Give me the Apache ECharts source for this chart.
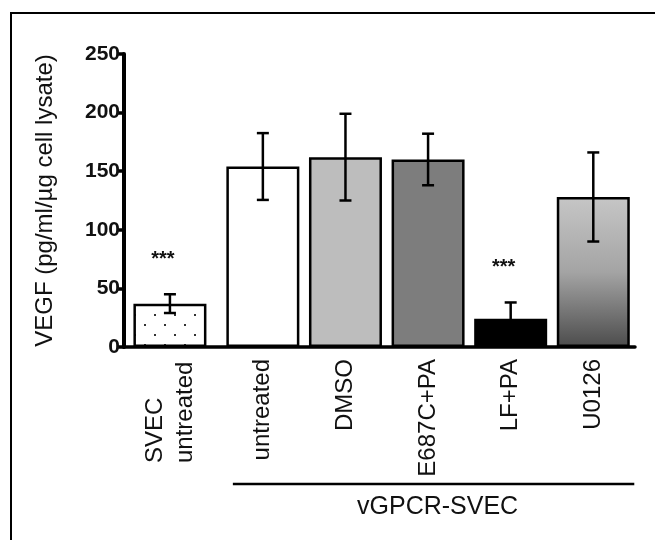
<!DOCTYPE html>
<html>
<head>
<meta charset="utf-8">
<script src="https://cdn.jsdelivr.net/npm/echarts@6/dist/echarts.min.js"></script>
<style>
html,body{margin:0;padding:0;background:#fff;}
#chart{width:655px;height:540px;}
</style>
</head>
<body>
<div id="chart"></div>
<script>
// ---- data ----
const categories = ['SVEC\nuntreated', 'untreated', 'DMSO', 'E687C+PA', 'LF+PA', 'U0126'];
const means = [37, 154, 162, 160, 24, 128];
const errors = [8, 28.5, 37, 22, 14, 38];
const significance = ['***', '', '', '', '***', ''];
const yMin = 0, yMax = 250, yInterval = 50;
const yAxisTitle = 'VEGF (pg/ml/\u00b5g cell lysate)';
const groupLabel = 'vGPCR-SVEC';
const groupStart = 1;      // first category of the vGPCR-SVEC group
const groupGap = 0.125;    // extra spacing (in bar slots) before the vGPCR-SVEC group

// slot positions: index plus a gap before the second group
const positions = categories.map((c, i) => i + (i >= groupStart ? groupGap : 0));

// ---- styles ----
const FONT = '"Liberation Sans", Arial, Helvetica, sans-serif';
function dotPattern() {
  const c = document.createElement('canvas');
  c.width = 20; c.height = 20;
  const g = c.getContext('2d');
  g.fillStyle = '#ffffff'; g.fillRect(0, 0, 20, 20);
  g.fillStyle = '#333333';
  g.fillRect(4, 4, 2, 2);
  g.fillRect(14, 14, 2, 2);
  return c;
}
const fills = [
  { image: dotPattern(), repeat: 'repeat' },
  '#ffffff',
  '#bdbdbd',
  '#7d7d7d',
  '#000000',
  new echarts.graphic.LinearGradient(0, 0, 0, 1, [
    { offset: 0, color: '#c6c6c6' },
    { offset: 0.5, color: '#a4a4a4' },
    { offset: 1, color: '#4c4c4c' }
  ])
];

const chart = echarts.init(document.getElementById('chart'), null, { renderer: 'canvas' });

const option = {
  animation: false,
  backgroundColor: '#ffffff',
  textStyle: { fontFamily: FONT },
  grid: { left: 124, right: 20, top: 54, bottom: 193, containLabel: false },
  xAxis: {
    type: 'value',
    min: -0.556, max: 5.63,
    splitLine: { show: false },
    axisLine: { show: true, onZero: false, lineStyle: { color: '#000', width: 3.5 } },
    axisTick: { show: false },
    axisLabel: {
      customValues: positions,
      rotate: 90,
      margin: 12,
      color: '#111',
      fontSize: 24,
      fontFamily: FONT,
      formatter: function (v) {
        let idx = 0, best = Infinity;
        positions.forEach((p, i) => { if (Math.abs(p - v) < best) { best = Math.abs(p - v); idx = i; } });
        const parts = categories[idx].split('\n');
        if (parts.length > 1) return parts.map(p => '{m|' + p + '}').join('\n');
        return categories[idx];
      },
      rich: {
        m: { width: 104, align: 'left', fontSize: 24, lineHeight: 30, color: '#111', fontFamily: FONT }
      }
    }
  },
  yAxis: {
    type: 'value',
    min: yMin, max: yMax, interval: yInterval,
    name: yAxisTitle,
    nameLocation: 'middle',
    nameRotate: 90,
    nameGap: 67,
    nameTextStyle: { fontSize: 24, color: '#111', fontFamily: FONT },
    axisLine: { show: true, onZero: false, lineStyle: { color: '#000', width: 4 } },
    axisTick: { show: true, length: 6, lineStyle: { color: '#000', width: 3.5 } },
    splitLine: { show: false },
    axisLabel: { fontSize: 21, fontWeight: 'bold', color: '#111', margin: 4, fontFamily: FONT }
  },
  series: [
    {
      type: 'bar',
      barWidth: 73,
      data: means.map((m, i) => ({
        value: [positions[i], m],
        itemStyle: { color: fills[i], borderColor: '#000', borderWidth: 2.5 }
      })),
      z: 2
    },
    {
      type: 'custom',
      z: 5,
      data: means.map((m, i) => [positions[i], m, errors[i], i]),
      renderItem: function (params, api) {
        const x = api.value(0), m = api.value(1), e = api.value(2), i = api.value(3);
        const top = api.coord([x, m + e]);
        const bot = api.coord([x, m - e]);
        const cap = 6;
        const st = { stroke: '#000', lineWidth: 2.5 };
        const children = [
          { type: 'line', shape: { x1: top[0], y1: top[1], x2: bot[0], y2: bot[1] }, style: st },
          { type: 'line', shape: { x1: top[0] - cap, y1: top[1], x2: top[0] + cap, y2: top[1] }, style: st },
          { type: 'line', shape: { x1: bot[0] - cap, y1: bot[1], x2: bot[0] + cap, y2: bot[1] }, style: st }
        ];
        const sig = significance[i];
        if (sig) {
          children.push({
            type: 'text',
            style: {
              text: sig, x: top[0] - 7, y: top[1] - 35,
              align: 'center', verticalAlign: 'middle',
              fontSize: 20, fontWeight: 'bold', fill: '#111', fontFamily: FONT
            }
          });
        }
        return { type: 'group', children: children };
      }
    }
  ]
};
chart.setOption(option);

// annotations: frame, group bracket and label
const pStart = chart.convertToPixel({ gridIndex: 0 }, [positions[groupStart], 0]);
const pEnd = chart.convertToPixel({ gridIndex: 0 }, [positions[positions.length - 1], 0]);
const lineX1 = pStart[0] - 30;
const lineX2 = pEnd[0] + 41;
const lineY = pStart[1] + 137;
chart.setOption({
  graphic: [
    { type: 'polyline', shape: { points: [[11, 540], [11, 13], [655, 13]] }, style: { stroke: '#000', lineWidth: 2, fill: null } },
    { type: 'line', shape: { x1: lineX1, y1: lineY, x2: lineX2, y2: lineY }, style: { stroke: '#000', lineWidth: 2.5 } },
    { type: 'text', x: (lineX1 + lineX2) / 2 + 4, y: lineY + 23,
      style: { text: groupLabel, align: 'center', verticalAlign: 'middle', fontSize: 25, fill: '#111', fontFamily: FONT } }
  ]
});
</script>
</body>
</html>
